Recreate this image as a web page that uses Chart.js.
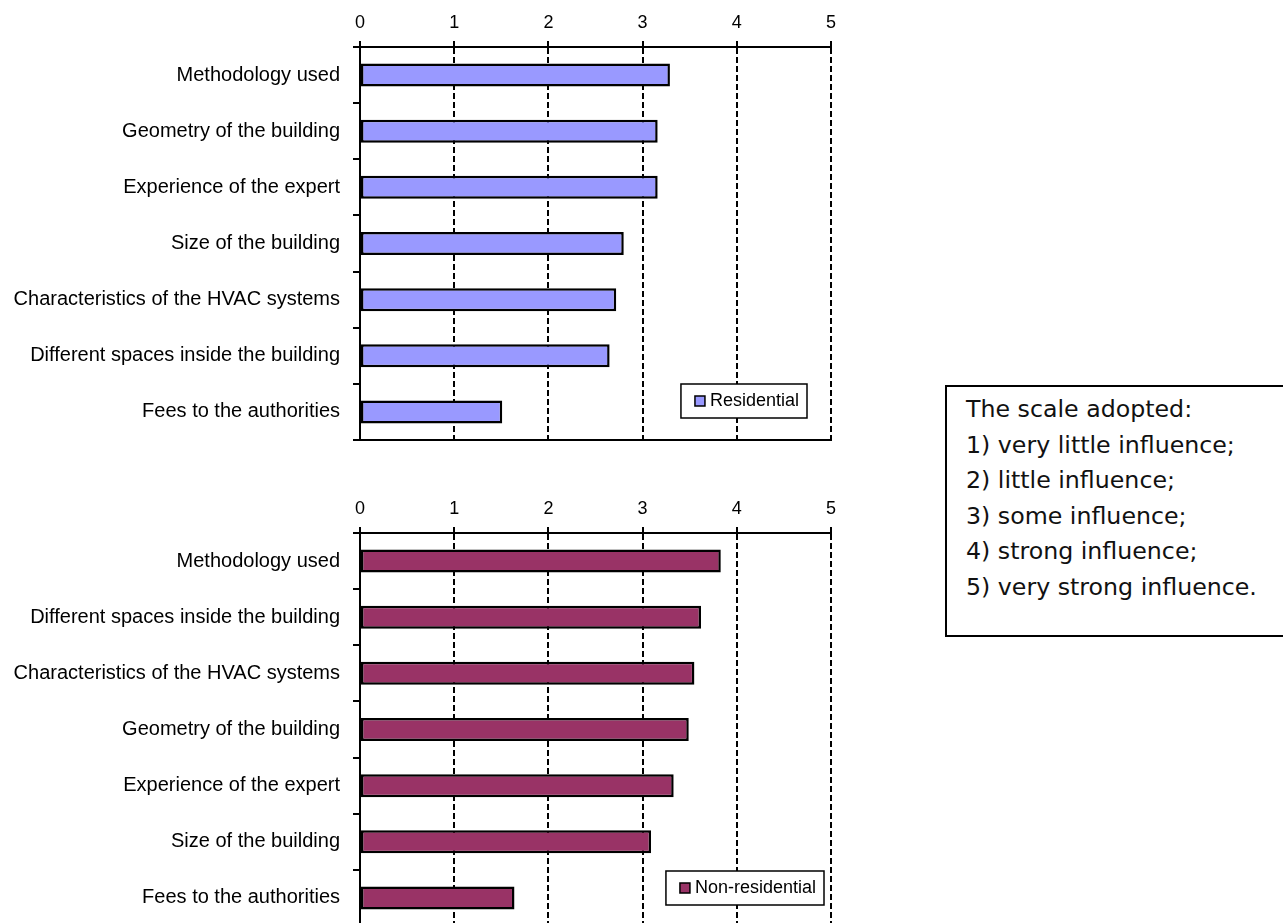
<!DOCTYPE html>
<html>
<head>
<meta charset="utf-8">
<script src="https://cdn.jsdelivr.net/npm/chart.js@4/dist/chart.umd.min.js"></script>
<style>
  html, body { margin: 0; padding: 0; background: #fff; width: 1283px; height: 923px; overflow: hidden; }
  .graphe { position: absolute; left: 0; }
  #echelle {
    position: absolute; left: 945px; top: 385px; width: 360px; height: 252px;
    border: 2px solid #000; box-sizing: border-box;
    font-family: "DejaVu Sans", sans-serif; font-size: 23.7px; line-height: 35.5px;
    color: #111; padding: 5px 0 0 19px;
  }
</style>
</head>
<body>
<canvas id="residentiel" class="graphe" width="860" height="465" style="top:0px"></canvas>
<canvas id="nonResidentiel" class="graphe" width="860" height="465" style="top:486px"></canvas>
<div id="echelle">
  The scale adopted:<br>
  1) very little influence;<br>
  2) little influence;<br>
  3) some influence;<br>
  4) strong influence;<br>
  5) very strong influence.
</div>
<script>
// Données (échelle de 1 à 5)
const labelsResidentiel = [
    'Methodology used',
    'Geometry of the building',
    'Experience of the expert',
    'Size of the building',
    'Characteristics of the HVAC systems',
    'Different spaces inside the building',
    'Fees to the authorities'
];
const valeursResidentiel = [3.29, 3.16, 3.16, 2.80, 2.72, 2.65, 1.51];

const labelsNonResidentiel = [
    'Methodology used',
    'Different spaces inside the building',
    'Characteristics of the HVAC systems',
    'Geometry of the building',
    'Experience of the expert',
    'Size of the building',
    'Fees to the authorities'
];
const valeursNonResidentiel = [3.83, 3.62, 3.55, 3.49, 3.33, 3.09, 1.64];

const graduations = [0, 1, 2, 3, 4, 5];

const POLICE = '"Liberation Sans", Arial, sans-serif';

// Légende encadrée dessinée dans la zone du graphique, en bas à droite
const legendeEncadree = {
    id: 'legendeEncadree',
    afterDraw(chart, args, opts) {
        const ctx = chart.ctx;
        const ds = chart.data.datasets[0];
        ctx.save();
        ctx.font = '18px ' + POLICE;
        const largeurTexte = ctx.measureText(ds.label).width;
        const w = 14 + 11 + 4 + largeurTexte + 8;
        const h = 34;
        const x = chart.chartArea.right - opts.droite - w;
        const y = opts.haut;
        ctx.fillStyle = '#fff';
        ctx.fillRect(x, y, w, h);
        ctx.lineWidth = 1.5;
        ctx.strokeStyle = '#000';
        ctx.strokeRect(x, y, w, h);
        ctx.fillStyle = ds.backgroundColor;
        ctx.fillRect(x + 14, y + 12, 10, 10);
        ctx.lineWidth = 1.5;
        ctx.strokeRect(x + 14, y + 12, 10, 10);
        ctx.fillStyle = '#000';
        ctx.textBaseline = 'middle';
        ctx.fillText(ds.label, x + 29, y + h / 2);
        ctx.restore();
    }
};

// Trait plein en bas de la zone de tracé
const cadreBas = {
    id: 'cadreBas',
    afterDatasetsDraw(chart) {
        const { ctx, chartArea } = chart;
        ctx.save();
        ctx.strokeStyle = '#000';
        ctx.lineWidth = 2;
        ctx.beginPath();
        ctx.moveTo(chartArea.left - 1, chartArea.bottom);
        ctx.lineTo(chartArea.right + 1, chartArea.bottom);
        ctx.stroke();
        ctx.restore();
    }
};

function creerGraphique(id, labels, valeurs, nomSerie, couleur, posLegende) {
    new Chart(document.getElementById(id), {
        type: 'bar',
        data: {
            labels: labels,
            datasets: [{
                label: nomSerie,
                data: valeurs,
                backgroundColor: couleur,
                borderColor: '#000',
                borderWidth: 2.5,
                borderSkipped: false,
                barPercentage: 0.41,
                categoryPercentage: 1.0
            }]
        },
        options: {
            indexAxis: 'y',
            responsive: false,
            animation: false,
            devicePixelRatio: 1,
            layout: { padding: { left: 0, right: 29, top: 0, bottom: 10 } },
            scales: {
                x: {
                    position: 'top',
                    min: 0,
                    max: 5,
                    afterFit: (s) => { s.height = 47; },
                    afterBuildTicks: (s) => { s.ticks = graduations.map(v => ({ value: v })); },
                    ticks: {
                        color: '#000',
                        font: { family: POLICE, size: 18 },
                        padding: 7
                    },
                    grid: {
                        color: (c) => c.tick && c.tick.value === 0 ? 'rgba(0,0,0,0)' : '#000',
                        lineWidth: 2,
                        tickLength: 6,
                        tickColor: '#000',
                        tickWidth: 2,
                        tickBorderDash: []
                    },
                    border: { display: true, color: '#000', width: 2, dash: [6, 3] }
                },
                y: {
                    afterFit: (s) => { s.width = 360; },
                    ticks: {
                        color: '#000',
                        font: { family: POLICE, size: 20 },
                        padding: 13
                    },
                    grid: {
                        drawOnChartArea: false,
                        drawTicks: true,
                        offset: true,
                        tickLength: 7,
                        color: '#000',
                        lineWidth: 2
                    },
                    border: { display: true, color: '#000', width: 2 }
                }
            },
            plugins: {
                legend: { display: false },
                tooltip: { enabled: false },
                legendeEncadree: posLegende
            }
        },
        plugins: [cadreBas, legendeEncadree]
    });
}

creerGraphique('residentiel', labelsResidentiel, valeursResidentiel, 'Residential', '#9999FF', { droite: 24, haut: 384 });
creerGraphique('nonResidentiel', labelsNonResidentiel, valeursNonResidentiel, 'Non-residential', '#993366', { droite: 7, haut: 385 });
</script>
</body>
</html>
